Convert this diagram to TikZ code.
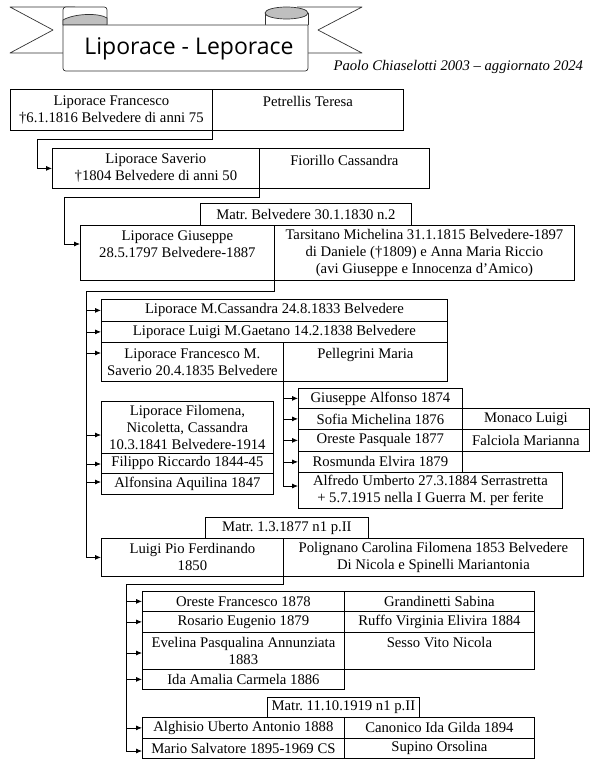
\documentclass[tikz,border=0pt]{standalone}
\usepackage{fontspec}
\setmainfont{Liberation Serif}
\newfontfamily\bannerfont{Open Sans}
\usepackage{tikz}
\usetikzlibrary{arrows.meta}
\frenchspacing
\tikzset{
  fambox/.style={draw=black, line width=0.8pt, fill=white, inner sep=0pt, align=center, anchor=north west, font=\fontsize{14.7}{17}\selectfont},
  famline/.style={line width=0.8pt, draw=black},
  famarrow/.style={famline, -{Latex[length=6pt,width=5pt]}},
  ribbon/.style={line width=0.7pt, draw=black!80, fill=white, line join=round},
  curl/.style={line width=0.7pt, draw=black!80, fill=black!25, line join=round},
}

\begin{document}
\begin{tikzpicture}[x=1pt, y=-1pt]
\useasboundingbox (0,0) rectangle (595,765);
\draw[ribbon] (63,53) -- (10,53) -- (53,30) -- (10,7) -- (75,7);
\draw[ribbon] (308,53) -- (362,53) -- (318,30) -- (362,7) -- (297,7);
\draw[ribbon] (63,25) -- (63,13) .. controls (63,7) .. (69,7) -- (101,7) .. controls (107,7) .. (107,13) -- (107,25);
\draw[curl] (63,25) -- (63,20) .. controls (75,13) and (100,13) .. (107,18) -- (107,25) -- cycle;
\draw[ribbon] (265,25) -- (265,13) -- (308,13) -- (308,25);
\draw[curl] (286.5,13) ellipse [x radius=21.5, y radius=6];
\draw[ribbon] (63,25) -- (63,65) .. controls (63,71) .. (69,71) -- (302,71) .. controls (308,71) .. (308,65) -- (308,25) -- cycle;
\node[anchor=base, font=\bannerfont\fontsize{23}{27}\selectfont] (title) at (189,55) {Liporace - Leporace};
\node[anchor=base west, font=\fontsize{14.7}{17}\selectfont\itshape] (author) at (330,71) {Paolo Chiaselotti 2003 – aggiornato 2024};

\node[fambox, minimum width=202pt, minimum height=41pt] (francesco) at (10,89) {Liporace Francesco\\†6.1.1816 Belvedere di anni 75};
\node[fambox, minimum width=191pt, minimum height=41pt] (petrellis) at (212,89) {Petrellis Teresa\\\mbox{}};
\node[fambox, minimum width=207pt, minimum height=40pt] (saverio) at (52,148) {Liporace Saverio\\†1804 Belvedere di anni 50};
\node[fambox, minimum width=170pt, minimum height=40pt] (fiorillo) at (259,148) {Fiorillo Cassandra\\\mbox{}};
\node[fambox, minimum width=211pt, minimum height=22pt] (matrA) at (200,203) {Matr. Belvedere 30.1.1830 n.2};
\node[fambox, minimum width=194pt, minimum height=55pt] (giuseppe) at (80,225) {Liporace Giuseppe\\28.5.1797 Belvedere-1887\\\mbox{}};
\node[fambox, minimum width=300pt, minimum height=55pt] (tarsitano) at (274,225) {Tarsitano Michelina 31.1.1815 Belvedere-1897\\di Daniele (†1809) e Anna Maria Riccio\\(avi Giuseppe e Innocenza d’Amico)};

\node[fambox, minimum width=346pt, minimum height=22pt] (cassandra) at (101,299) {Liporace M.Cassandra 24.8.1833 Belvedere};
\node[fambox, minimum width=346pt, minimum height=21pt] (luigiG) at (101,321) {Liporace Luigi M.Gaetano 14.2.1838 Belvedere};
\node[fambox, minimum width=182pt, minimum height=39pt] (francescoM) at (101,342) {Liporace Francesco M.\\Saverio 20.4.1835 Belvedere};
\node[fambox, minimum width=164pt, minimum height=39pt] (pellegrini) at (283,342) {Pellegrini Maria\\\mbox{}};
\node[fambox, minimum width=172pt, minimum height=52pt] (filomena) at (101,401) {Liporace Filomena,\\Nicoletta, Cassandra\\10.3.1841 Belvedere-1914};
\node[fambox, minimum width=172pt, minimum height=20pt] (filippo) at (101,453) {Filippo Riccardo 1844-45};
\node[fambox, minimum width=172pt, minimum height=21pt] (alfonsina) at (101,473) {Alfonsina Aquilina 1847};

\node[fambox, minimum width=164pt, minimum height=20pt] (giuseppeA) at (298,388) {Giuseppe Alfonso 1874};
\node[fambox, minimum width=164pt, minimum height=21pt] (sofia) at (298,408) {Sofia Michelina 1876};
\node[fambox, minimum width=127pt, minimum height=21pt] (monaco) at (462,408) {Monaco Luigi};
\node[fambox, minimum width=164pt, minimum height=22pt] (oreste) at (298,429) {Oreste Pasquale 1877};
\node[fambox, minimum width=127pt, minimum height=22pt] (falciola) at (462,429) {Falciola Marianna};
\node[fambox, minimum width=164pt, minimum height=21pt] (rosmunda) at (298,451) {Rosmunda Elvira 1879};
\node[fambox, minimum width=264pt, minimum height=36pt] (alfredo) at (298,472) {Alfredo Umberto 27.3.1884 Serrastretta\\+ 5.7.1915 nella I Guerra M. per ferite};

\node[fambox, minimum width=163pt, minimum height=21pt] (matrB) at (205,517) {Matr. 1.3.1877 n1 p.II};
\node[fambox, minimum width=182pt, minimum height=38pt] (luigiPio) at (101,538) {Luigi Pio Ferdinando\\1850};
\node[fambox, minimum width=300pt, minimum height=38pt] (polignano) at (283,538) {Polignano Carolina Filomena 1853 Belvedere\\Di Nicola e Spinelli Mariantonia};

\node[fambox, minimum width=202pt, minimum height=20pt] (oresteF) at (142,591) {Oreste Francesco 1878};
\node[fambox, minimum width=190pt, minimum height=20pt] (grandinetti) at (344,591) {Grandinetti Sabina};
\node[fambox, minimum width=202pt, minimum height=21pt] (rosario) at (142,611) {Rosario Eugenio 1879};
\node[fambox, minimum width=190pt, minimum height=21pt] (ruffo) at (344,611) {Ruffo Virginia Elivira 1884};
\node[fambox, minimum width=202pt, minimum height=37pt] (evelina) at (142,632) {Evelina Pasqualina Annunziata\\1883};
\node[fambox, minimum width=190pt, minimum height=37pt] (sesso) at (344,632) {Sesso Vito Nicola\\\mbox{}};
\node[fambox, minimum width=202pt, minimum height=20pt] (ida) at (142,669) {Ida Amalia Carmela 1886};
\node[fambox, minimum width=152pt, minimum height=20pt] (matrC) at (267,697) {Matr. 11.10.1919 n1 p.II};
\node[fambox, minimum width=202pt, minimum height=21pt] (alghisio) at (142,717) {Alghisio Uberto Antonio 1888};
\node[fambox, minimum width=190pt, minimum height=21pt] (canonico) at (344,717) {Canonico Ida Gilda 1894};
\node[fambox, minimum width=202pt, minimum height=20pt] (mario) at (142,738) {Mario Salvatore 1895-1969 CS};
\node[fambox, minimum width=190pt, minimum height=20pt] (supino) at (344,738) {Supino Orsolina};

\coordinate (trunkA) at (86,291);
\coordinate (trunkB) at (francescoM.south east);
\coordinate (trunkC) at (126,584);
\draw[famarrow] (francesco.south east) |- (37,139) |- (saverio.west);
\draw[famarrow] (saverio.south east) |- (64,197) |- (giuseppe.west |- 0,244);
\draw[famarrow] (giuseppe.south east) |- (trunkA) |- (luigiPio.west);
\draw[famarrow] (trunkA |- cassandra.west) -- (cassandra.west);
\draw[famarrow] (trunkA |- luigiG.west) -- (luigiG.west);
\draw[famarrow] (trunkA |- 0,353) -- (francescoM.west |- 0,353);
\draw[famarrow] (trunkA |- 0,435) -- (filomena.west |- 0,435);
\draw[famarrow] (trunkA |- 0,464) -- (filippo.west |- 0,464);
\draw[famarrow] (trunkA |- 0,482) -- (alfonsina.west |- 0,482);
\draw[famarrow] (trunkB) |- (alfredo.west |- 0,486);
\draw[famarrow] (trunkB |- giuseppeA.west) -- (giuseppeA.west);
\draw[famarrow] (trunkB |- sofia.west) -- (sofia.west);
\draw[famarrow] (trunkB |- oreste.west) -- (oreste.west);
\draw[famarrow] (trunkB |- rosmunda.west) -- (rosmunda.west);
\draw[famarrow] (luigiPio.south east) |- (trunkC) |- (mario.west |- 0,751);
\draw[famarrow] (trunkC |- oresteF.west) -- (oresteF.west);
\draw[famarrow] (trunkC |- rosario.west) -- (rosario.west);
\draw[famarrow] (trunkC |- 0,653) -- (evelina.west |- 0,653);
\draw[famarrow] (trunkC |- ida.west) -- (ida.west);
\draw[famarrow] (trunkC |- alghisio.west) -- (alghisio.west);
\end{tikzpicture}
\end{document}
